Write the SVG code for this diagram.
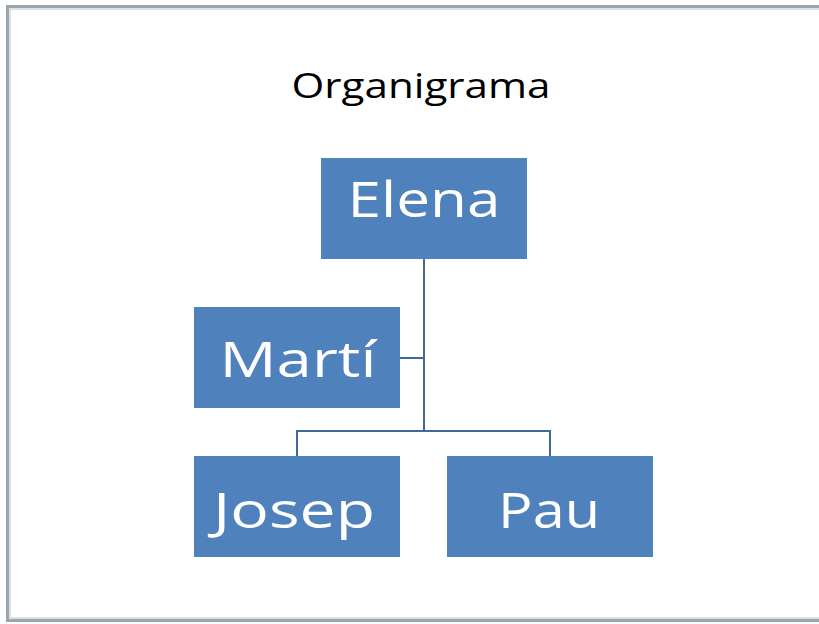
<svg xmlns="http://www.w3.org/2000/svg" width="819" height="624" viewBox="0 0 819 624">
<style>
.box{fill:#4F81BD}
.lbl{font-family:"Open Sans","Noto Sans",sans-serif;font-size:50px;fill:#ffffff;text-anchor:middle}
.title{font-family:"Open Sans","Noto Sans",sans-serif;font-size:35px;fill:#000000;text-anchor:middle}
.conn{fill:none;stroke:#41699A;stroke-width:2}
</style>
<rect x="0" y="0" width="819" height="624" fill="#ffffff"/>
<rect x="7.5" y="6.5" width="820" height="614" fill="none" stroke="#9ba3ab" stroke-width="3"/>
<rect x="10" y="9" width="820" height="609" fill="none" stroke="#d4d8dc" stroke-width="1.5"/>
<text class="title" x="421" y="98" textLength="259" lengthAdjust="spacingAndGlyphs">Organigrama</text>
<g id="connectors">
<path class="conn" d="M424 259 V431"/>
<path class="conn" d="M400 358 H424"/>
<path class="conn" d="M297 456 V431 H550 V456"/>
</g>
<g id="elena"><rect class="box" x="321" y="158" width="206" height="101"/><text class="lbl" x="424" y="217" textLength="153" lengthAdjust="spacingAndGlyphs">Elena</text></g>
<g id="marti"><rect class="box" x="194" y="307" width="206" height="101"/><text class="lbl" x="298" y="377" textLength="157" lengthAdjust="spacingAndGlyphs">Martí</text></g>
<g id="josep"><rect class="box" x="194" y="456" width="206" height="101"/><text class="lbl" x="294" y="528" textLength="162" lengthAdjust="spacingAndGlyphs">Josep</text></g>
<g id="pau"><rect class="box" x="447" y="456" width="206" height="101"/><text class="lbl" x="549" y="528" textLength="102" lengthAdjust="spacingAndGlyphs">Pau</text></g>
</svg>
